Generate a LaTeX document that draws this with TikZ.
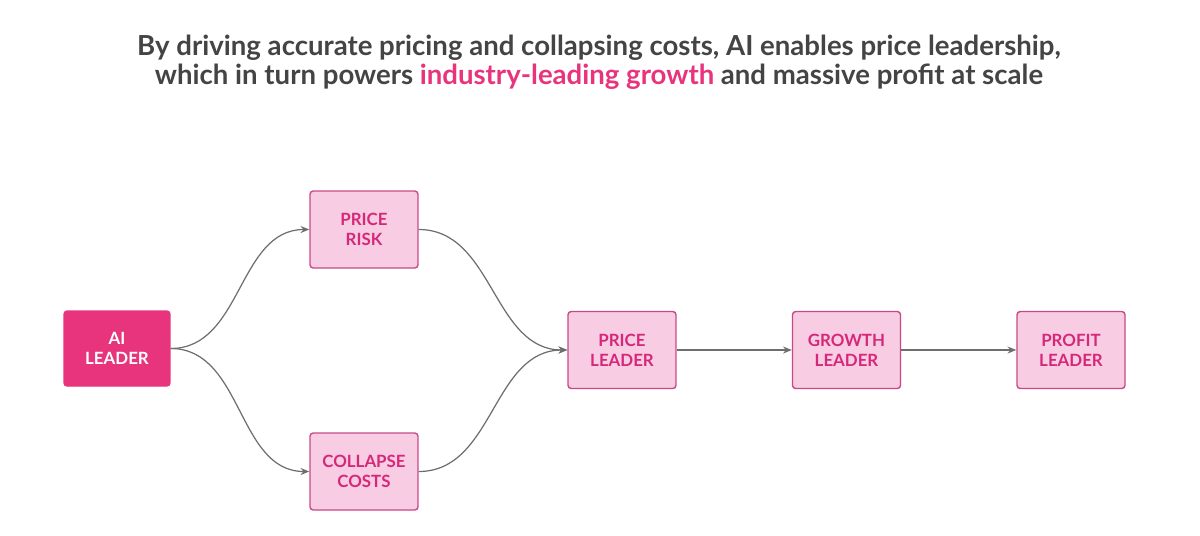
\documentclass[tikz,border=0pt]{standalone}
\usepackage{fontspec}
\setmainfont{Lato}
\usetikzlibrary{arrows.meta}
\definecolor{darkpink}{RGB}{232,52,124}
\definecolor{lightpink}{RGB}{248,204,226}
\definecolor{boxedge}{RGB}{200,72,138}
\definecolor{boxtext}{RGB}{214,40,122}
\definecolor{titlegray}{RGB}{68,68,68}
\definecolor{arrowgray}{RGB}{110,110,110}

\begin{document}
\begin{tikzpicture}[x=0.02cm, y=-0.02cm,
    stage/.style={draw=boxedge, line width=0.8pt, fill=lightpink, rounded corners=1.8pt,
        minimum width=2.16cm, minimum height=1.54cm, align=center, text=boxtext,
        font=\fontsize{9.6}{11.5}\selectfont\bfseries},
    leader/.style={stage, draw=darkpink, fill=darkpink, text=white, minimum width=2.12cm, minimum height=1.5cm},
    link/.style={draw=arrowgray, line width=0.7pt, -{Stealth[length=5pt, width=4pt]}}]
    \useasboundingbox (0,0) rectangle (1200,535);

    % Title
    \node[text=titlegray, align=center, font=\fontsize{15.7}{16.6}\selectfont\bfseries] (title) at (599,62)
        {By driving accurate pricing and collapsing costs, AI enables price leadership,\\
         which in turn powers \textcolor{darkpink}{industry-leading growth} and massive profit at scale};

    % Boxes
    \node[leader] (ai) at (117,348.5) {AI\\LEADER};
    \node[stage] (risk) at (364,229.5) {PRICE\\RISK};
    \node[stage] (costs) at (364,471.5) {COLLAPSE\\COSTS};
    \node[stage] (price) at (622,350) {PRICE\\LEADER};
    \node[stage] (growth) at (846.5,350) {GROWTH\\LEADER};
    \node[stage] (profit) at (1071,350) {PROFIT\\LEADER};

    % Curved links
    \draw[link] (ai.east) to[out=0, in=180] (risk.west);
    \draw[link] (ai.east) to[out=0, in=180] (costs.west);
    \draw[link] (risk.east) to[out=0, in=180] (price.west);
    \draw[link] (costs.east) to[out=0, in=180] (price.west);

    % Straight links
    \draw[link] (price) -- (growth);
    \draw[link] (growth) -- (profit);
\end{tikzpicture}
\end{document}
